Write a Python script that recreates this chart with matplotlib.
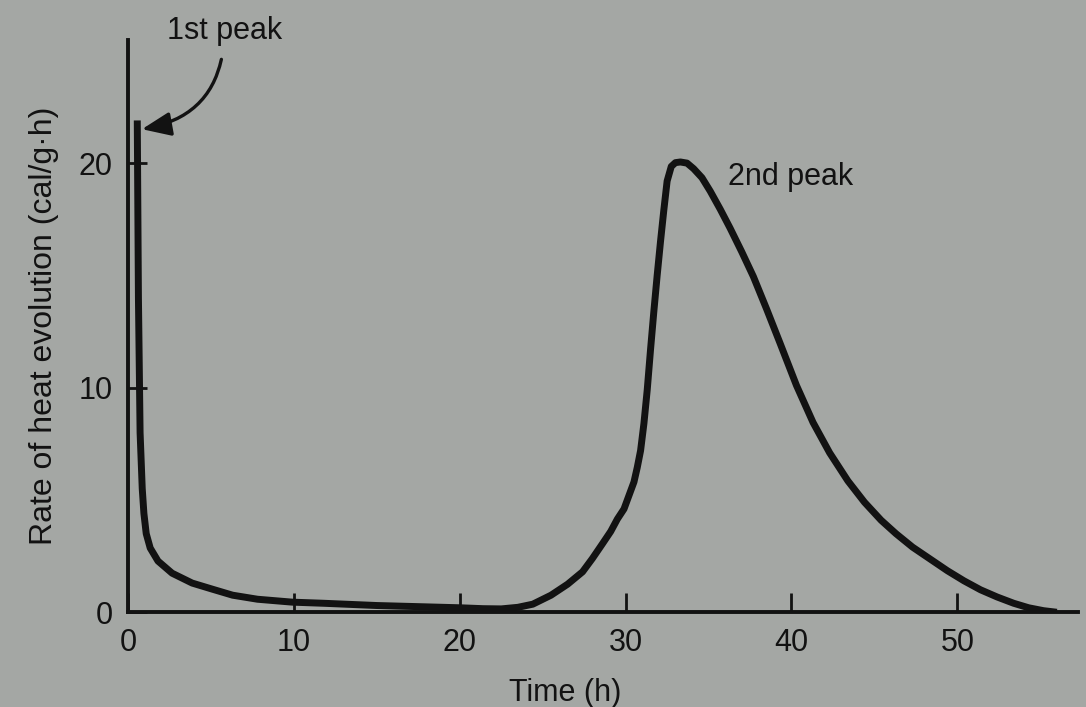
import matplotlib
matplotlib.use("Agg")
import matplotlib.pyplot as plt

# ---- data ----
time_h = [0.55, 0.62, 0.72, 0.85, 0.95, 1.09, 1.33, 1.8, 2.65, 3.86, 5.07,
          6.3, 7.8, 9.9, 11.8, 15.0, 18.0, 20.0, 21.4, 22.5, 23.5, 24.4,
          25.5, 26.5, 27.4, 28.0, 28.6, 29.1, 29.5, 29.9, 30.2, 30.5, 30.7,
          30.9, 31.1, 31.3, 31.5, 31.7, 31.9, 32.1, 32.3, 32.5, 32.75, 33.0,
          33.3, 33.7, 34.1, 34.6, 35.1, 35.7, 36.3, 37.0, 37.7, 38.5, 39.3,
          40.3, 41.3, 42.3, 43.4, 44.4, 45.4, 46.3, 47.3, 48.4, 49.4, 50.4,
          51.4, 52.4, 53.4, 54.3, 55.2, 56.0]
rate = [21.9, 14.0, 8.0, 5.5, 4.4, 3.5, 2.86, 2.28, 1.74, 1.3, 1.03,
        0.76, 0.58, 0.45, 0.4, 0.3, 0.24, 0.2, 0.16, 0.15, 0.22, 0.36,
        0.76, 1.25, 1.8, 2.4, 3.05, 3.6, 4.15, 4.6, 5.2, 5.8, 6.45,
        7.2, 8.4, 9.9, 11.7, 13.4, 15.0, 16.5, 17.9, 19.2, 19.85, 20.02,
        20.05, 20.0, 19.75, 19.35, 18.75, 17.95, 17.1, 16.05, 14.95, 13.5, 12.0,
        10.1, 8.45, 7.1, 5.85, 4.9, 4.1, 3.5, 2.9, 2.35, 1.85, 1.4,
        1.0, 0.68, 0.4, 0.2, 0.07, 0.0]

x_ticks = [0, 10, 20, 30, 40, 50]
y_ticks = [0, 10, 20]

peak1_xy = (0.75, 21.5)
peak1_text_xy = (5.8, 25.9)
peak2_text_xy = (36.2, 19.4)

INK = "#121212"
PAPER = "#a4a7a4"

plt.rcParams.update({
    "font.family": ["Liberation Sans", "DejaVu Sans"],
    "font.size": 22,
})

fig = plt.figure(figsize=(10.86, 7.07), dpi=100)
fig.patch.set_facecolor(PAPER)
ax = fig.add_axes([0.118, 0.134, 0.875, 0.81])
ax.set_facecolor("none")

ax.plot(time_h, rate, color=INK, lw=5, solid_joinstyle="round",
        solid_capstyle="butt")

ax.set_xlim(0, 57.3)
ax.set_ylim(0, 25.5)

for side in ["top", "right"]:
    ax.spines[side].set_visible(False)
for side in ["left", "bottom"]:
    ax.spines[side].set_linewidth(2.8)
    ax.spines[side].set_color(INK)

ax.set_xticks(x_ticks)
ax.set_yticks(y_ticks)
ax.tick_params(direction="in", length=14, width=2, color=INK,
               labelsize=22, labelcolor=INK, pad=11)

ax.set_xlabel("Time (h)", fontsize=22, color=INK)
ax.xaxis.set_label_coords(0.46, -0.115)
ax.set_ylabel("Rate of heat evolution (cal/g\u00b7h)", fontsize=23, color=INK)
ax.yaxis.set_label_coords(-0.073, 0.5)

ax.annotate("1st peak", xy=peak1_xy, xytext=peak1_text_xy,
            fontsize=22, color=INK, ha="center", va="center",
            arrowprops=dict(arrowstyle="-|>,head_length=0.8,head_width=0.33",
                            color=INK, lw=2.4,
                            connectionstyle="arc3,rad=-0.42",
                            shrinkA=8, shrinkB=1),
            annotation_clip=False)
ax.text(*peak2_text_xy, "2nd peak", fontsize=22, color=INK,
        ha="left", va="center")

fig.savefig("out.png", dpi=100, facecolor=PAPER)
